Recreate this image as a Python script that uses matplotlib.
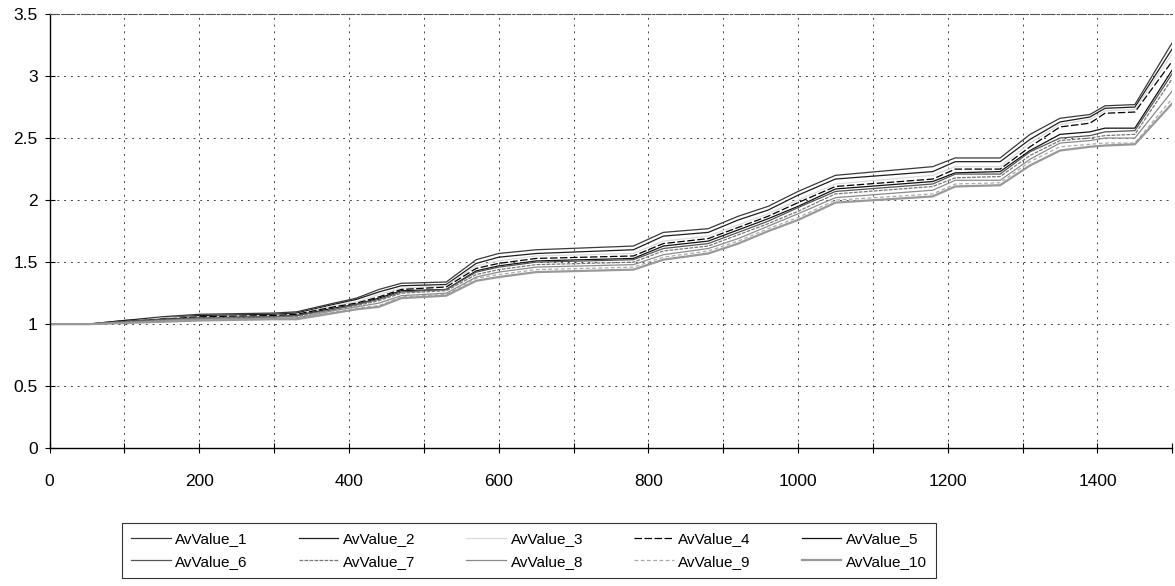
import matplotlib
matplotlib.use("Agg")
import matplotlib.pyplot as plt

plt.rcParams['font.family'] = ['Liberation Sans', 'DejaVu Sans']

# shared x positions (time steps)
x = [0, 50, 100, 150, 200, 300, 330, 380, 410, 440, 470, 530, 570, 600, 650, 780,
     820, 880, 920, 960, 1000, 1050, 1180, 1210, 1270, 1310, 1350, 1390, 1410, 1450, 1500]

av1 = [1.00, 1.00, 1.03, 1.06, 1.08, 1.09, 1.10, 1.17, 1.21, 1.28, 1.33, 1.34, 1.52, 1.57, 1.60, 1.63,
       1.74, 1.77, 1.87, 1.95, 2.07, 2.20, 2.27, 2.34, 2.34, 2.53, 2.66, 2.69, 2.76, 2.77, 3.27]
av2 = [1.00, 1.00, 1.03, 1.05, 1.07, 1.08, 1.09, 1.16, 1.20, 1.26, 1.31, 1.32, 1.49, 1.54, 1.57, 1.60,
       1.71, 1.74, 1.84, 1.92, 2.04, 2.17, 2.23, 2.31, 2.31, 2.49, 2.63, 2.67, 2.74, 2.75, 3.22]
av3 = [1.00, 1.00, 1.02, 1.05, 1.06, 1.07, 1.08, 1.15, 1.18, 1.24, 1.29, 1.31, 1.47, 1.51, 1.55, 1.57,
       1.67, 1.71, 1.80, 1.89, 2.00, 2.13, 2.20, 2.27, 2.27, 2.46, 2.61, 2.65, 2.72, 2.73, 3.18]
av4 = [1.00, 1.00, 1.02, 1.04, 1.06, 1.07, 1.08, 1.14, 1.17, 1.22, 1.28, 1.30, 1.45, 1.49, 1.53, 1.55,
       1.65, 1.69, 1.78, 1.87, 1.98, 2.11, 2.17, 2.25, 2.25, 2.43, 2.59, 2.62, 2.70, 2.71, 3.12]
av5 = [1.00, 1.00, 1.02, 1.04, 1.05, 1.06, 1.07, 1.13, 1.16, 1.21, 1.27, 1.28, 1.43, 1.47, 1.51, 1.53,
       1.63, 1.67, 1.76, 1.85, 1.95, 2.09, 2.15, 2.22, 2.23, 2.40, 2.53, 2.55, 2.58, 2.58, 3.05]
av6 = [1.00, 1.00, 1.02, 1.04, 1.05, 1.06, 1.07, 1.12, 1.16, 1.20, 1.26, 1.28, 1.42, 1.46, 1.50, 1.52,
       1.61, 1.65, 1.74, 1.83, 1.94, 2.07, 2.13, 2.21, 2.21, 2.39, 2.50, 2.52, 2.55, 2.56, 3.02]
av7 = [1.00, 1.00, 1.02, 1.03, 1.05, 1.06, 1.06, 1.12, 1.15, 1.19, 1.25, 1.27, 1.40, 1.44, 1.48, 1.50,
       1.59, 1.63, 1.72, 1.81, 1.91, 2.05, 2.11, 2.18, 2.19, 2.36, 2.48, 2.50, 2.52, 2.53, 2.98]
av8 = [1.00, 1.00, 1.01, 1.03, 1.04, 1.05, 1.05, 1.11, 1.14, 1.17, 1.23, 1.25, 1.38, 1.42, 1.46, 1.48,
       1.56, 1.61, 1.69, 1.79, 1.89, 2.02, 2.08, 2.16, 2.16, 2.33, 2.46, 2.48, 2.50, 2.50, 2.88]
av9 = [1.00, 1.00, 1.01, 1.02, 1.03, 1.04, 1.05, 1.10, 1.13, 1.15, 1.22, 1.24, 1.37, 1.40, 1.44, 1.46,
       1.54, 1.59, 1.67, 1.77, 1.86, 2.00, 2.05, 2.13, 2.14, 2.31, 2.43, 2.45, 2.46, 2.46, 2.82]
av10 = [1.00, 1.00, 1.01, 1.02, 1.03, 1.04, 1.04, 1.09, 1.12, 1.14, 1.21, 1.23, 1.35, 1.38, 1.42, 1.44,
        1.52, 1.57, 1.65, 1.75, 1.84, 1.98, 2.03, 2.11, 2.12, 2.28, 2.40, 2.43, 2.44, 2.45, 2.78]

series = [av1, av2, av3, av4, av5, av6, av7, av8, av9, av10]
labels = ["AvValue_%d" % i for i in range(1, 11)]

xticks = list(range(0, 1501, 100))
xtick_labels = [str(t) if t % 200 == 0 and t < 1500 else "" for t in xticks]
yticks = [0, 0.5, 1, 1.5, 2, 2.5, 3, 3.5]
ytick_labels = ["0", "0.5", "1", "1.5", "2", "2.5", "3", "3.5"]

# grayscale styles, close to the scanned print
styles = [
    dict(color="#3a3a3a", lw=0.9, ls="-"),
    dict(color="#1e1e1e", lw=0.9, ls="-"),
    dict(color="#dcdcdc", lw=0.9, ls="-"),
    dict(color="#000000", lw=0.9, ls=(0, (6, 2))),
    dict(color="#111111", lw=0.9, ls="-"),
    dict(color="#555555", lw=0.9, ls="-"),
    dict(color="#777777", lw=0.9, ls=(0, (3, 1))),
    dict(color="#8a8a8a", lw=0.9, ls="-"),
    dict(color="#aaaaaa", lw=0.9, ls=(0, (3, 2))),
    dict(color="#999999", lw=1.6, ls="-"),
]

fig = plt.figure(figsize=(11.75, 5.86), dpi=100)
ax = fig.add_axes([0.0422, 0.235, 0.9555, 0.7411])

for ys, lab, st in zip(series, labels, styles):
    ax.plot(x, ys, label=lab, **st)

ax.set_xlim(0, 1500)
ax.set_ylim(0, 3.5)
ax.set_xticks(xticks)
ax.set_xticklabels(xtick_labels)
ax.set_yticks(yticks)
ax.set_yticklabels(ytick_labels)

ax.grid(True, color="#444444", linestyle=(0, (2, 5)), linewidth=0.7)
ax.tick_params(axis="both", direction="inout", length=7, width=0.8, labelsize=12.5, colors="black")
ax.tick_params(axis="x", pad=15)
ax.tick_params(axis="y", pad=5)

ax.spines["right"].set_visible(False)
ax.spines["top"].set_linestyle((0, (8, 2, 2, 2)))
ax.spines["top"].set_color("#555555")
ax.spines["left"].set_linewidth(1.0)
ax.spines["bottom"].set_linewidth(1.0)

# legend filled row by row (1-5 on top, 6-10 below)
handles, labs = ax.get_legend_handles_labels()
order = [0, 5, 1, 6, 2, 7, 3, 8, 4, 9]
leg = fig.legend([handles[i] for i in order], [labs[i] for i in order],
                 loc="lower left", bbox_to_anchor=(0.1038, 0.0137, 0.6928, 0.0972),
                 mode="expand", ncol=5, fontsize=11, handlelength=2.6,
                 borderaxespad=0, fancybox=False, frameon=True, borderpad=0.6,
                 labelspacing=0.55, handletextpad=0.3)
leg.get_frame().set_edgecolor("black")
leg.get_frame().set_linewidth(0.8)

plt.savefig("out.png", dpi=100)
